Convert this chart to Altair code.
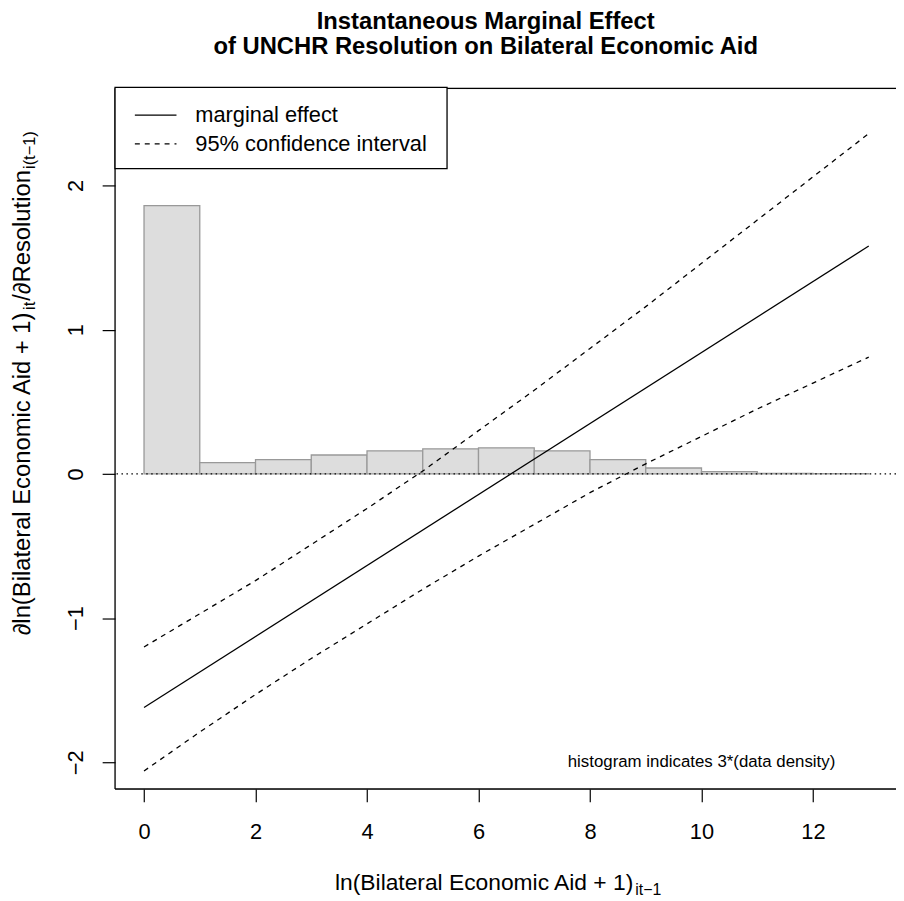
import altair as alt
import pandas as pd

# ---------------- data ----------------
bin_left = [0, 1, 2, 3, 4, 5, 6, 7, 8, 9, 10, 11, 12]
bin_right = [1, 2, 3, 4, 5, 6, 7, 8, 9, 10, 11, 12, 13]
hist_height = [1.86, 0.078, 0.099, 0.131, 0.160, 0.174, 0.181, 0.160, 0.099, 0.041, 0.016, 0.003, 0.001]

me_x = [0, 13]
me_y = [-1.62, 1.58]

ci_x = [0, 1, 2, 3, 4, 5, 6, 7, 8, 9, 10, 11, 12, 13]
ci_upper = [-1.20, -0.97, -0.74, -0.49, -0.24, 0.02, 0.30, 0.58, 0.87, 1.16, 1.46, 1.76, 2.06, 2.36]
ci_lower = [-2.06, -1.79, -1.53, -1.28, -1.04, -0.80, -0.57, -0.35, -0.13, 0.07, 0.26, 0.45, 0.63, 0.81]

x_ticks = [0, 2, 4, 6, 8, 10, 12]
y_ticks = [-2, -1, 0, 1, 2]

title_lines = ["Instantaneous Marginal Effect", "of UNCHR Resolution on Bilateral Economic Aid"]
legend_labels = ["marginal effect", "95% confidence interval"]
note_text = "histogram indicates 3*(data density)"
xlab_main, xlab_sub = "ln(Bilateral Economic Aid + 1)", "it\u22121"
ylab_parts = ["\u2202ln(Bilateral Economic Aid + 1)", "it", "/\u2202Resolution", "i(t\u22121)"]

# ---------------- layout ----------------
FONT = "Liberation Sans"
W, H = 788, 707
xs = alt.Scale(domain=[-0.52, 13.489], nice=False, zero=False)
ys = alt.Scale(domain=[-2.185, 2.674], nice=False, zero=False)

hist_df = pd.DataFrame({"l": bin_left, "r": bin_right, "h": hist_height})
me_df = pd.DataFrame({"x": me_x, "y": me_y})
up_df = pd.DataFrame({"x": ci_x, "y": ci_upper})
lo_df = pd.DataFrame({"x": ci_x, "y": ci_lower})
one = pd.DataFrame({"k": [0]})

xaxis = alt.Axis(values=x_ticks, title=None, domain=False, grid=False, tickSize=13,
                 tickColor="black", tickWidth=1.2, labelFontSize=22, labelFont=FONT,
                 labelColor="black", labelBaseline="alphabetic", labelPadding=37, format="d")
yaxis = alt.Axis(values=y_ticks, title=None, domain=False, grid=False, tickSize=13,
                 tickColor="black", tickWidth=1.2, labelFontSize=22, labelFont=FONT,
                 labelColor="black", labelAngle=270, labelAlign="center",
                 labelBaseline="alphabetic", labelPadding=20, format="d")

bars = alt.Chart(hist_df).mark_rect(fill="#DDDDDD", stroke="#999999", strokeWidth=1.3).encode(
    x=alt.X("l:Q", scale=xs, axis=xaxis),
    x2="r:Q",
    y=alt.Y("h:Q", scale=ys, axis=yaxis),
    y2=alt.datum(0),
)

zero = alt.Chart(one).mark_rule(color="black", strokeWidth=1.2, strokeDash=[1.5, 3.5]).encode(
    y=alt.datum(0, scale=ys)
)

me_line = alt.Chart(me_df).mark_line(color="black", strokeWidth=1.3).encode(
    x=alt.X("x:Q", scale=xs), y=alt.Y("y:Q", scale=ys))
up_line = alt.Chart(up_df).mark_line(color="black", strokeWidth=1.3, strokeDash=[5, 5]).encode(
    x=alt.X("x:Q", scale=xs), y=alt.Y("y:Q", scale=ys))
lo_line = alt.Chart(lo_df).mark_line(color="black", strokeWidth=1.3, strokeDash=[5, 5]).encode(
    x=alt.X("x:Q", scale=xs), y=alt.Y("y:Q", scale=ys))

# plot frame (left, top, bottom; right edge lies beyond the picture)
frame_l = alt.Chart(one).mark_rule(color="black", strokeWidth=1.3).encode(
    x=alt.value(0), y=alt.value(0), y2=alt.value(H))
frame_t = alt.Chart(one).mark_rule(color="black", strokeWidth=1.3).encode(
    x=alt.value(0), x2=alt.value(W), y=alt.value(0))
frame_b = alt.Chart(one).mark_rule(color="black", strokeWidth=1.3).encode(
    x=alt.value(0), x2=alt.value(W), y=alt.value(H))

# legend
leg_box = alt.Chart(one).mark_rect(fill="white", stroke="black", strokeWidth=1.3).encode(
    x=alt.value(0), x2=alt.value(335), y=alt.value(-1), y2=alt.value(81))
leg_solid = alt.Chart(one).mark_rule(color="black", strokeWidth=1.3).encode(
    x=alt.value(20), x2=alt.value(62), y=alt.value(27))
leg_dash = alt.Chart(one).mark_rule(color="black", strokeWidth=1.3, strokeDash=[5, 5]).encode(
    x=alt.value(20), x2=alt.value(62), y=alt.value(56))
leg_t1 = alt.Chart(one).mark_text(font=FONT, fontSize=22, align="left", baseline="middle", color="black").encode(
    x=alt.value(81), y=alt.value(27), text=alt.value(legend_labels[0]))
leg_t2 = alt.Chart(one).mark_text(font=FONT, fontSize=22, align="left", baseline="middle", color="black").encode(
    x=alt.value(81), y=alt.value(56), text=alt.value(legend_labels[1]))

note = alt.Chart(one).mark_text(font=FONT, fontSize=17, align="center", baseline="middle", color="black").encode(
    x=alt.datum(10, scale=xs), y=alt.datum(-2, scale=ys), text=alt.value(note_text))

# titles
t1 = alt.Chart(one).mark_text(font=FONT, fontSize=24, fontWeight="bold", align="center", baseline="middle", color="black").encode(
    x=alt.value(374), y=alt.value(-67), text=alt.value(title_lines[0]))
t2 = alt.Chart(one).mark_text(font=FONT, fontSize=24, fontWeight="bold", align="center", baseline="middle", color="black").encode(
    x=alt.value(374), y=alt.value(-42), text=alt.value(title_lines[1]))

# x label with subscript
xl1 = alt.Chart(one).mark_text(font=FONT, fontSize=23, align="left", baseline="alphabetic", color="black").encode(
    x=alt.value(222), y=alt.value(809), text=alt.value(xlab_main))
xl2 = alt.Chart(one).mark_text(font=FONT, fontSize=16, align="left", baseline="alphabetic", color="black").encode(
    x=alt.value(525), y=alt.value(814), text=alt.value(xlab_sub))

# y label with subscripts (rotated)
def ypart(txt, y0, size, xoff):
    return alt.Chart(one).mark_text(font=FONT, fontSize=size, align="left", baseline="alphabetic",
                                    angle=270, color="black").encode(
        x=alt.value(-86 + xoff), y=alt.value(y0), text=alt.value(txt))

yl1 = ypart(ylab_parts[0], 552, 24, 0)
yl2 = ypart(ylab_parts[1], 223.6, 16.5, 5)
yl3 = ypart(ylab_parts[2], 214.4, 24, 0)
yl4 = ypart(ylab_parts[3], 81.4, 16.5, 5)

chart = alt.layer(
    bars, zero, me_line, up_line, lo_line, frame_l, frame_t, frame_b,
    leg_box, leg_solid, leg_dash, leg_t1, leg_t2, note, t1, t2, xl1, xl2, yl1, yl2, yl3, yl4
).properties(
    width=W, height=H,
    autosize=alt.AutoSizeParams(type="none"),
    padding={"left": 108, "top": 77, "right": 0, "bottom": 109},
).configure_view(stroke=None).configure(font=FONT, background="white")

chart.save("out.html", embed_options={"renderer": "svg", "actions": False})
